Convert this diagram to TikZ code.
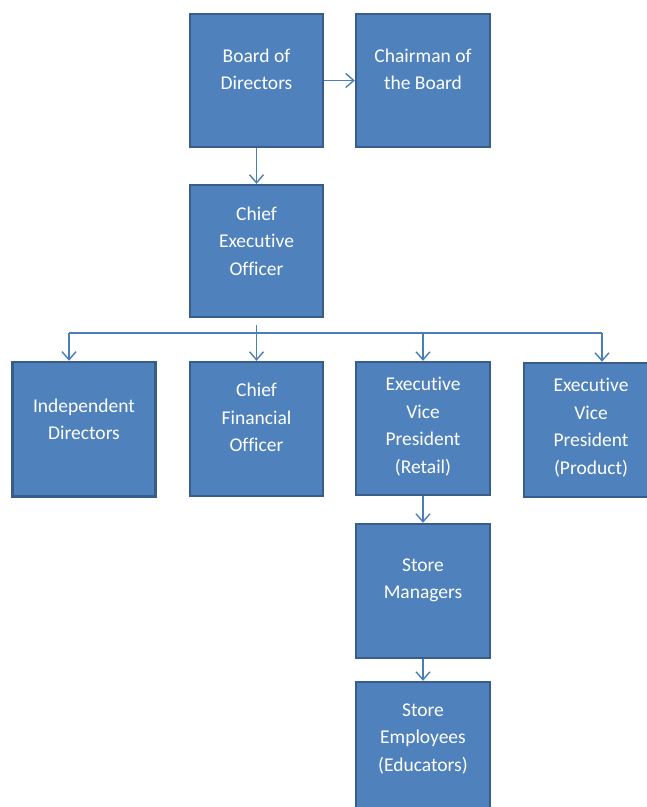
\documentclass[tikz,border=0pt]{standalone}
\usepackage{fontspec}
\setmainfont{Carlito}[Ligatures={NoCommon,NoContextual}]
\usetikzlibrary{arrows.meta}
\definecolor{boxfill}{HTML}{4F81BD}
\definecolor{boxline}{HTML}{385D8A}
\definecolor{conn}{HTML}{4A7EBB}
\begin{document}
\begin{tikzpicture}[x=1pt,y=-1pt,
  box/.style={draw=boxline,fill=boxfill,line width=2.4pt,inner sep=0pt,minimum width=133pt,minimum height=133pt},
  txt/.style={text=white,align=center,font=\fontsize{19.5}{27.5}\selectfont,inner sep=0pt},
  conarrow/.style={draw=conn,line width=1.4pt,-{Straight Barb[length=8pt,width=14pt,line width=1.4pt]}},
  conline/.style={draw=conn,line width=1.4pt}]
\useasboundingbox (0,0) rectangle (647,807);
\clip (0,0) rectangle (647,807);
% boxes
\node[box] (bod) at (256.5,80.5) {};
\node[box,minimum width=134pt] (chair) at (423,80.5) {};
\node[box,minimum height=132pt] (ceo) at (256.5,251) {};
\node[box,minimum width=143pt,minimum height=134.5pt] (ind) at (84,429.2) {};
\node[box,minimum height=134pt] (cfo) at (256.5,429) {};
\node[box,minimum width=134pt] (evpr) at (423,428.5) {};
\node[box,minimum width=134pt,minimum height=134pt] (evpp) at (591,430) {};
\node[box,minimum width=134pt,minimum height=134pt] (sm) at (423,591) {};
\node[box,minimum width=134pt,minimum height=134pt] (se) at (423,749) {};
% texts
\node[txt] (tbod) at (256.5,69.5) {Board of\\Directors};
\node[txt] (tchair) at (423,69.5) {Chairman of\\the Board};
\node[txt] (tceo) at (256.5,241) {Chief\\Executive\\Officer};
\node[txt] (tind) at (84,419.5) {Independent\\Directors};
\node[txt] (tcfo) at (256.5,417.5) {Chief\\Financial\\Officer};
\node[txt] (tevpr) at (423,426.5) {Executive\\Vice\\President\\(Retail)};
\node[txt] (tevpp) at (591,427.5) {Executive\\Vice\\President\\(Product)};
\node[txt] (tsm) at (423,580.5) {Store\\Managers};
\node[txt] (tse) at (423,739) {Store\\Employees\\(Educators)};
% connectors
\draw[conarrow] (bod.east) -- (chair.west);
\draw[conarrow] (bod.south) -- (ceo.north);
\coordinate (busl) at (69,333);
\coordinate (busr) at (602,333);
\draw[conline] (busl) -- (busr);
\draw[conarrow,shorten <=7pt] (ceo.south) -- (cfo.north);
\draw[conarrow] (busl) -- (busl |- ind.north);
\draw[conarrow] (evpr.north |- busl) -- (evpr.north);
\draw[conarrow] (busr) -- (busr |- evpp.north);
\draw[conarrow] (evpr.south) -- (sm.north);
\draw[conarrow] (sm.south) -- (se.north);
\end{tikzpicture}
\end{document}
